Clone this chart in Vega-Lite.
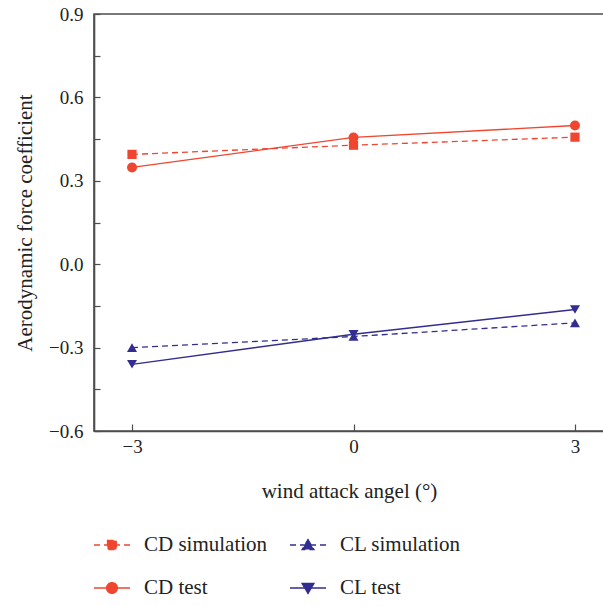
{
  "$schema": "https://vega.github.io/schema/vega-lite/v6.json",
  "width": 510,
  "height": 417,
  "autosize": "none",
  "padding": {"left": 94, "top": 14, "right": 0, "bottom": 175},
  "config": {
    "view": {"stroke": "#4d4d4d", "strokeWidth": 1.6},
    "font": "Liberation Serif",
    "axis": {
      "grid": false,
      "domainColor": "#4d4d4d",
      "domainWidth": 1.6,
      "tickColor": "#4d4d4d",
      "tickWidth": 1.2,
      "labelFont": "Liberation Serif",
      "labelFontSize": 19,
      "labelColor": "#222222",
      "titleFont": "Liberation Serif",
      "titleFontSize": 21,
      "titleFontWeight": "normal",
      "titleColor": "#222222"
    },
    "legend": {
      "orient": "none",
      "direction": "horizontal",
      "legendX": -1,
      "legendY": 512,
      "columns": 2,
      "padding": 0,
      "symbolSize": 1296,
      "symbolStrokeWidth": 1.3,
      "symbolOpacity": 1,
      "labelFont": "Liberation Serif",
      "labelFontSize": 21,
      "labelColor": "#222222",
      "labelOffset": 13,
      "columnPadding": 19,
      "rowPadding": 14
    }
  },
  "data": {
    "values": [
      {"angle": -3, "coef": 0.395, "series": "CD simulation"},
      {"angle": 0, "coef": 0.428, "series": "CD simulation"},
      {"angle": 3, "coef": 0.457, "series": "CD simulation"},
      {"angle": -3, "coef": 0.348, "series": "CD test"},
      {"angle": 0, "coef": 0.456, "series": "CD test"},
      {"angle": 3, "coef": 0.499, "series": "CD test"},
      {"angle": -3, "coef": -0.300, "series": "CL simulation"},
      {"angle": 0, "coef": -0.260, "series": "CL simulation"},
      {"angle": 3, "coef": -0.211, "series": "CL simulation"},
      {"angle": -3, "coef": -0.360, "series": "CL test"},
      {"angle": 0, "coef": -0.252, "series": "CL test"},
      {"angle": 3, "coef": -0.163, "series": "CL test"}
    ]
  },
  "encoding": {
    "x": {
      "field": "angle",
      "type": "quantitative",
      "scale": {"domain": [-3.515, 3.393], "nice": false, "zero": false},
      "axis": {
        "values": [-3, 0, 3],
        "format": "d",
        "tickSize": -7,
        "labelPadding": 13,
        "title": "wind attack angel (°)",
        "titlePadding": 24
      }
    },
    "y": {
      "field": "coef",
      "type": "quantitative",
      "scale": {"domain": [-0.6, 0.9], "nice": false, "zero": false},
      "axis": {
        "values": [-0.6, -0.45, -0.3, -0.15, 0, 0.15, 0.3, 0.45, 0.6, 0.75, 0.9],
        "labelExpr": "abs(round(datum.value*100)) % 30 == 0 ? format(datum.value, '.1f') : ''",
        "tickSize": -6,
        "labelPadding": 17,
        "title": "Aerodynamic force coefficient",
        "titlePadding": 13
      }
    }
  },
  "layer": [
    {
      "mark": {"type": "point", "filled": true, "opacity": 0},
      "encoding": {
        "fill": {
          "field": "series", "type": "nominal",
          "scale": {"domain": ["CD simulation", "CL simulation", "CD test", "CL test"], "range": ["#EF4630", "#322D8F", "#EF4630", "#322D8F"]},
          "legend": {"title": null, "values": ["CD simulation", "CL simulation", "CD test", "CL test"]}
        },
        "stroke": {
          "field": "series", "type": "nominal",
          "scale": {"domain": ["CD simulation", "CL simulation", "CD test", "CL test"], "range": ["#EF4630", "#322D8F", "#EF4630", "#322D8F"]},
          "legend": {"title": null, "values": ["CD simulation", "CL simulation", "CD test", "CL test"]}
        },
        "shape": {
          "field": "series", "type": "nominal",
          "scale": {
            "domain": ["CD simulation", "CL simulation", "CD test", "CL test"],
            "range": [
              "M-1,0H1M-0.25,-0.25H0.25V0.25H-0.25Z",
              "M-1,0H1M0,-0.3L0.33,0.25L-0.33,0.25Z",
              "M-1,0H1M-0.3,0A0.3,0.3 0 1,0 0.3,0A0.3,0.3 0 1,0 -0.3,0Z",
              "M-1,0H1M0,0.3L0.33,-0.25L-0.33,-0.25Z"
            ]
          },
          "legend": {"title": null, "values": ["CD simulation", "CL simulation", "CD test", "CL test"]}
        },
        "strokeDash": {
          "field": "series", "type": "nominal",
          "scale": {"domain": ["CD simulation", "CL simulation", "CD test", "CL test"], "range": [[6, 4], [6, 4], [1, 0], [1, 0]]},
          "legend": {"title": null, "values": ["CD simulation", "CL simulation", "CD test", "CL test"]}
        }
      }
    },
    {
      "transform": [{"filter": "indexof(datum.series, 'simulation') >= 0"}],
      "mark": {"type": "line", "strokeWidth": 1.3, "strokeDash": [6, 4]},
      "encoding": {
        "color": {"field": "series", "type": "nominal", "scale": {"domain": ["CD simulation", "CL simulation", "CD test", "CL test"], "range": ["#EF4630", "#322D8F", "#EF4630", "#322D8F"]}, "legend": null}
      }
    },
    {
      "transform": [{"filter": "indexof(datum.series, 'test') >= 0"}],
      "mark": {"type": "line", "strokeWidth": 1.3},
      "encoding": {
        "color": {"field": "series", "type": "nominal", "legend": null}
      }
    },
    {
      "transform": [{"filter": "datum.series == 'CD simulation'"}],
      "mark": {"type": "point", "filled": true, "opacity": 1, "size": 85, "shape": "square"},
      "encoding": {"color": {"field": "series", "type": "nominal", "legend": null}}
    },
    {
      "transform": [{"filter": "datum.series == 'CD test'"}],
      "mark": {"type": "point", "filled": true, "opacity": 1, "size": 100, "shape": "circle"},
      "encoding": {"color": {"field": "series", "type": "nominal", "legend": null}}
    },
    {
      "transform": [{"filter": "datum.series == 'CL simulation'"}],
      "mark": {"type": "point", "filled": true, "opacity": 1, "size": 100, "shape": "triangle-up"},
      "encoding": {"color": {"field": "series", "type": "nominal", "legend": null}}
    },
    {
      "transform": [{"filter": "datum.series == 'CL test'"}],
      "mark": {"type": "point", "filled": true, "opacity": 1, "size": 100, "shape": "triangle-down"},
      "encoding": {"color": {"field": "series", "type": "nominal", "legend": null}}
    }
  ]
}
